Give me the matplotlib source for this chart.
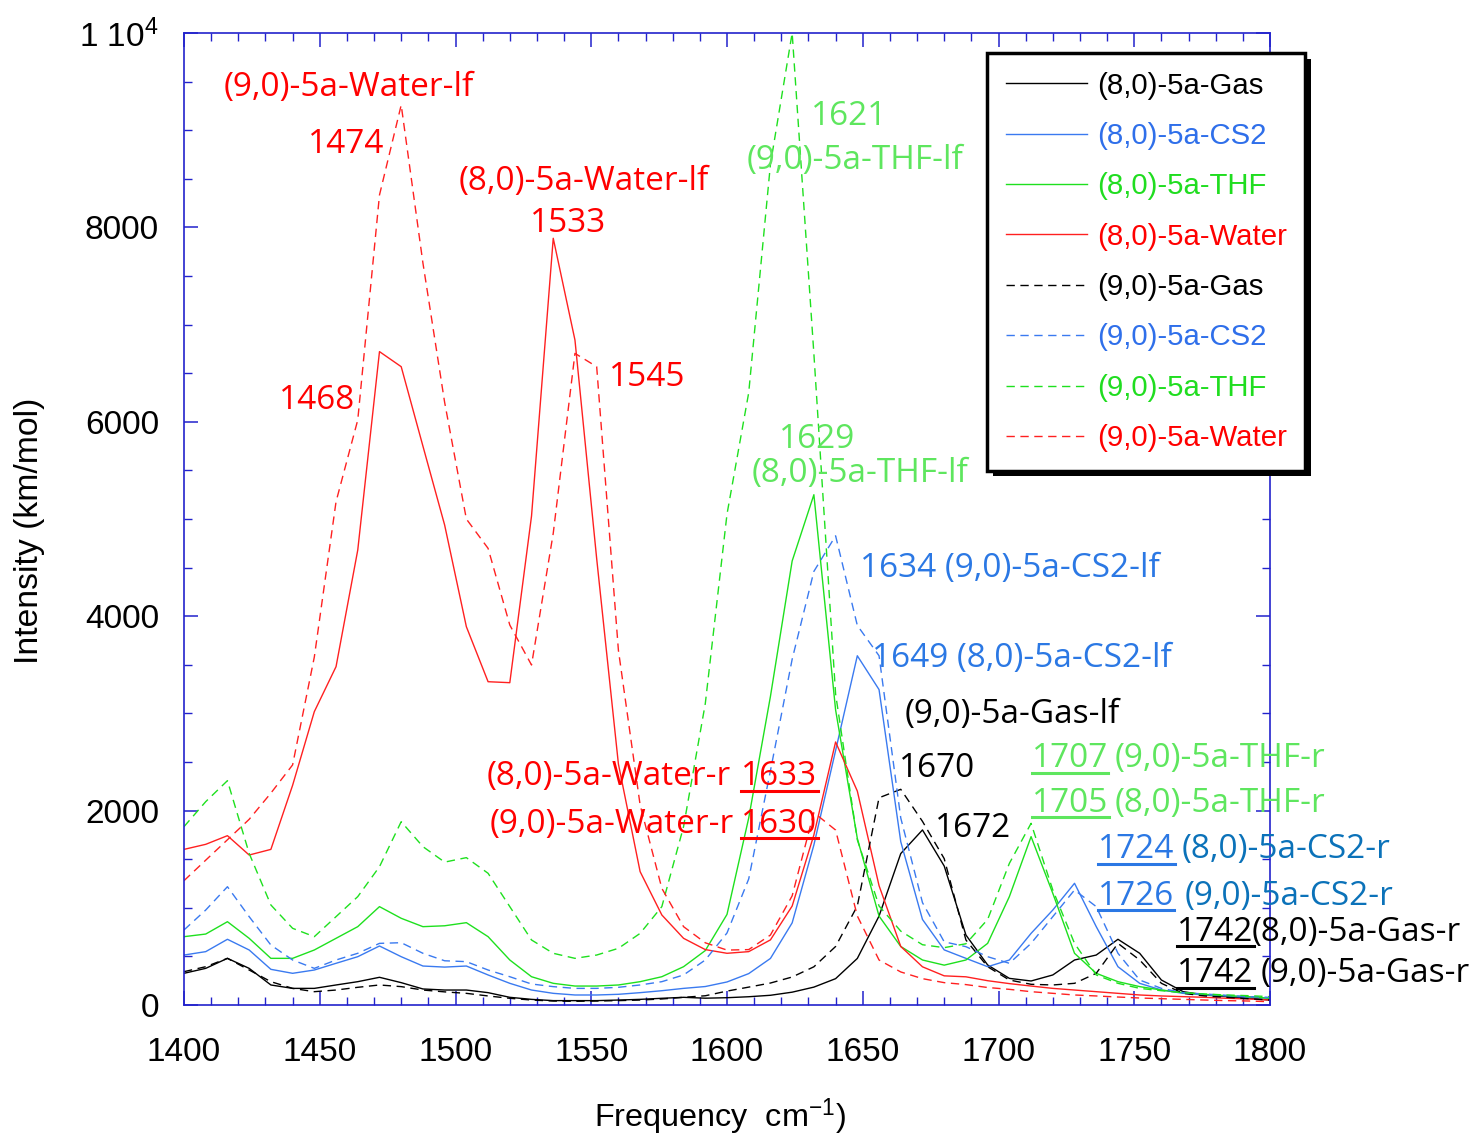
import matplotlib
matplotlib.use('Agg')
import matplotlib.pyplot as plt
import numpy as np
from matplotlib.ticker import MultipleLocator
import matplotlib.patheffects as pe
from matplotlib.lines import Line2D

plt.rcParams['font.family'] = ['Liberation Sans', 'DejaVu Sans']
plt.rcParams['mathtext.default'] = 'regular'

# ---------------- data ----------------
freq = np.arange(1400, 1801, 8)

gas80 = [326, 377, 480, 377, 206, 171, 171, 206, 240, 285, 230, 165, 154, 154, 127, 79, 58, 45, 45, 45,
         51, 58, 69, 79, 70, 75, 85, 100, 132, 184, 271, 479, 915, 1558, 1801, 1430, 720, 412, 274, 247,
         309, 463, 514, 676, 532, 257, 137, 103, 86, 69, 51]
cs2_80 = [514, 549, 676, 566, 367, 326, 360, 429, 497, 607, 497, 401, 390, 401, 309, 223, 154, 120, 103, 103,
          110, 127, 147, 171, 190, 237, 323, 479, 845, 1646, 2618, 3593, 3245, 1680, 880, 567, 480, 394, 463, 737,
          977, 1252, 806, 394, 223, 154, 120, 103, 93, 79, 69]
thf80 = [703, 730, 857, 686, 480, 480, 566, 686, 806, 1012, 892, 806, 815, 847, 703, 463, 291, 223, 195, 195,
         206, 240, 291, 394, 560, 932, 1924, 3175, 4568, 5250, 3036, 1714, 915, 602, 463, 410, 463, 634, 1115, 1732,
         1149, 532, 326, 240, 189, 154, 127, 110, 96, 86, 69]
water80 = [1601, 1653, 1742, 1543, 1601, 2260, 3018, 3481, 4681, 6722, 6567, 5750, 4938, 3892, 3326, 3316, 5030, 7888, 6841, 4592,
           2480, 1372, 926, 686, 570, 532, 549, 670, 1018, 1750, 2706, 2201, 1228, 602, 393, 300, 290, 250, 220, 195,
           171, 154, 137, 120, 103, 93, 86, 79, 69, 62, 51]
gas90 = [343, 394, 480, 360, 240, 171, 137, 154, 182, 206, 189, 154, 135, 120, 93, 69, 51, 41, 38, 41,
         45, 51, 62, 79, 95, 143, 184, 226, 288, 393, 602, 1019, 2132, 2219, 1889, 1506, 669, 394, 257, 213,
         206, 223, 326, 634, 463, 223, 120, 93, 79, 65, 51]
cs2_90 = [772, 977, 1217, 909, 617, 463, 377, 463, 532, 634, 641, 532, 455, 446, 360, 291, 216, 189, 171, 171,
          182, 206, 240, 309, 463, 741, 1297, 2410, 3557, 4461, 4827, 3905, 3593, 1924, 1053, 650, 600, 497, 429, 634,
          909, 1183, 1012, 532, 257, 171, 127, 113, 99, 86, 79]
thf90 = [1835, 2092, 2308, 1560, 1029, 789, 703, 909, 1115, 1423, 1886, 1629, 1470, 1516, 1355, 1012, 669, 532, 480, 514,
         583, 737, 1012, 1835, 3100, 5050, 6300, 8650, 10000, 6700, 3200, 1700, 1019, 760, 620, 590, 630, 880, 1457, 1869,
         1183, 634, 309, 223, 171, 147, 127, 113, 103, 96, 86]
water90 = [1279, 1490, 1700, 1910, 2180, 2470, 3580, 5178, 6019, 8333, 9259, 7634, 6200, 5000, 4698, 3909, 3498, 4853, 6704, 6567,
           3650, 2058, 1200, 806, 640, 565, 570, 720, 1123, 1980, 1800, 916, 463, 340, 271, 230, 210, 180, 161, 137,
           120, 103, 93, 82, 72, 65, 58, 51, 45, 41, 34]

series_labels = ['(8,0)-5a-Gas', '(8,0)-5a-CS2', '(8,0)-5a-THF', '(8,0)-5a-Water',
                 '(9,0)-5a-Gas', '(9,0)-5a-CS2', '(9,0)-5a-THF', '(9,0)-5a-Water']
series_values = [gas80, cs2_80, thf80, water80, gas90, cs2_90, thf90, water90]

xticks = [1400, 1450, 1500, 1550, 1600, 1650, 1700, 1750, 1800]
yticks = [0, 2000, 4000, 6000, 8000, 10000]
ytick_labels = ['0', '2000', '4000', '6000', '8000', '1 10$^{4}$']

# annotations: text, x, y, color, underline
ann_texts = ['(9,0)-5a-Water-lf', '1474', '(8,0)-5a-Water-lf', '1533', '1545', '1468',
             '1621', '(9,0)-5a-THF-lf', '1629', '(8,0)-5a-THF-lf',
             '1634 (9,0)-5a-CS2-lf', '1649 (8,0)-5a-CS2-lf', '(9,0)-5a-Gas-lf', '1670', '1672',
             '(8,0)-5a-Water-r', '1633', '(9,0)-5a-Water-r', '1630',
             '1707', '(9,0)-5a-THF-r', '1705', '(8,0)-5a-THF-r',
             '1724', '(8,0)-5a-CS2-r', '1726', '(9,0)-5a-CS2-r',
             '1742', '(8,0)-5a-Gas-r', '1742', '(9,0)-5a-Gas-r']
ann_x = [1414.7, 1445.6, 1501.2, 1527.3, 1556.4, 1435.0,
         1631.1, 1607.2, 1619.3, 1609.0,
         1649.1, 1653.5, 1665.3, 1663.5, 1676.7,
         1511.5, 1605.3, 1512.6, 1605.3,
         1712.4, 1742.6, 1712.4, 1742.6,
         1736.7, 1767.3, 1736.7, 1768.7,
         1765.8, 1793.4, 1765.8, 1796.7]
ann_y = [9444, 8848, 8477, 8045, 6451, 6214,
         9146, 8693, 5823, 5463,
         4486, 3560, 2984, 2428, 1811,
         2346, 2346, 1862, 1862,
         2531, 2531, 2078, 2078,
         1595, 1595, 1121, 1121,
         751, 751, 319, 319]
RED = '#ff0000'
LGREEN = '#5ee65e'
ABLUE = '#2b78e4'
DBLUE = '#0b72b9'
ann_colors = [RED] * 6 + [LGREEN] * 4 + [ABLUE, ABLUE, 'black', 'black', 'black'] + [RED] * 4 + \
             [LGREEN] * 4 + [ABLUE, DBLUE, ABLUE, DBLUE] + ['black'] * 4
ann_under = [False] * 16 + [True, False, True, True, False, True, False, True, False, True, False,
                            True, False, True, False]

# ---------------- styles ----------------
line_colors = ['black', '#3a7af0', '#1ee01e', '#ff2020'] * 2
text_colors = ['black', '#2f6fea', '#20dd20', '#ff0000'] * 2
AXC = '#2222cc'

fig = plt.figure(figsize=(14.76, 11.38), dpi=100)
ax = fig.add_axes([184 / 1476, 133 / 1138, 1086 / 1476, 972 / 1138])

handles = []
for i, (lab, vals) in enumerate(zip(series_labels, series_values)):
    if i < 4:
        ln, = ax.plot(freq, vals, color=line_colors[i], lw=1.0, label=lab)
    else:
        ln, = ax.plot(freq, vals, color=line_colors[i], lw=1.0, dashes=(6, 4), label=lab)
    handles.append(ln)

ax.set_xlim(1400, 1800)
ax.set_ylim(0, 10000)
ax.set_xticks(xticks)
ax.set_yticks(yticks)
ax.set_yticklabels(ytick_labels)
ax.xaxis.set_minor_locator(MultipleLocator(10))
ax.yaxis.set_minor_locator(MultipleLocator(500))
ax.tick_params(which='both', direction='in', top=True, right=True, color=AXC, labelsize=24)
ax.tick_params(which='major', length=10, width=1.1)
ax.tick_params(which='minor', length=5.5, width=1.0)
ax.tick_params(axis='x', pad=23)
ax.tick_params(axis='y', pad=18)
for s in ax.spines.values():
    s.set_color(AXC)
    s.set_linewidth(1.2)

fig.text(30 / 1476, 1 - 531 / 1138, 'Intensity (km/mol)', rotation=90, ha='center', va='center', fontsize=24.3)
fig.text(720 / 1476, 1 - 1117 / 1138, 'Frequency  cm$^{-1}$)', ha='center', va='center', fontsize=23.3)

leg = ax.legend(handles, series_labels, loc='upper left', bbox_to_anchor=(0.7394, 0.9794),
                fontsize=21.2, frameon=True, fancybox=False, edgecolor='black', framealpha=1,
                handlelength=2.75, handletextpad=0.35, labelspacing=0.76, borderpad=0.63,
                borderaxespad=0, labelcolor=text_colors)
leg.get_frame().set_linewidth(2.5)
leg.get_frame().set_path_effects([pe.SimplePatchShadow(offset=(4, -4), shadow_rgbFace='black', alpha=1.0),
                                  pe.Normal()])

texts = []
for t, x, y, c in zip(ann_texts, ann_x, ann_y, ann_colors):
    texts.append(ax.text(x, y, t, color=c, fontsize=24, ha='left', va='center',
                         family=['Open Sans', 'DejaVu Sans']))

fig.canvas.draw()
W, H = fig.canvas.get_width_height()
for t, u, c in zip(texts, ann_under, ann_colors):
    if u:
        bb = t.get_window_extent()
        yc = (bb.y0 + bb.y1) / 2 - 0.42 * (bb.y1 - bb.y0)
        fig.add_artist(Line2D([bb.x0 / W, bb.x1 / W], [yc / H, yc / H], transform=fig.transFigure,
                              color=c, lw=2.2))

fig.savefig('out.png', dpi=100)
